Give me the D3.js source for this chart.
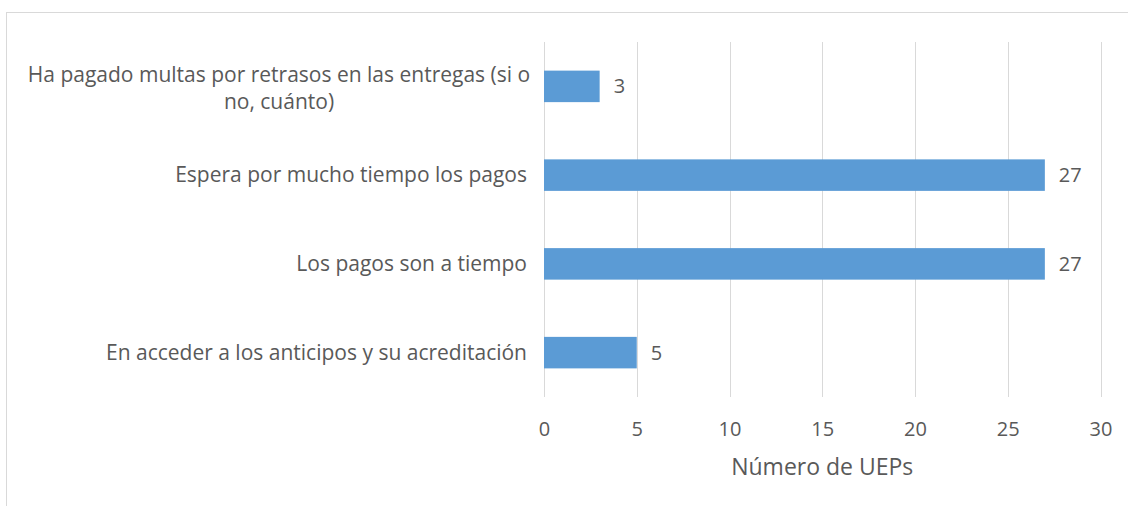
<!DOCTYPE html>
<html><head><meta charset="utf-8">
<script src="https://cdn.jsdelivr.net/npm/d3@7"></script>
<style>body{margin:0;background:#fff}svg{display:block}text{font-family:"Open Sans",sans-serif;fill:#595959}</style>
</head><body><svg id="c" width="1128" height="506"></svg>
<script>
const categories = [
  "Ha pagado multas por retrasos en las entregas (si o no, cuánto)",
  "Espera por mucho tiempo los pagos",
  "Los pagos son a tiempo",
  "En acceder a los anticipos y su acreditación"
];
const labelLines = [
  ["Ha pagado multas por retrasos en las entregas (si o", "no, cuánto)"],
  ["Espera por mucho tiempo los pagos"],
  ["Los pagos son a tiempo"],
  ["En acceder a los anticipos y su acreditación"]
];
const values = [3, 27, 27, 5];
const xTicks = [0, 5, 10, 15, 20, 25, 30];
const axisTitle = "Número de UEPs";

const svg = d3.select("#c");
svg.append("rect").attr("x", 6.5).attr("y", 12.5).attr("width", 1130).attr("height", 500)
  .attr("fill", "none").attr("stroke", "#D9D9D9").attr("stroke-width", 1);

const x = d3.scaleLinear().domain([0, 30]).range([544, 1100.5]);
const y = d3.scaleBand().domain(categories).range([42, 397]).paddingInner(0.645).paddingOuter(0.3225);

const g = svg.append("g");
g.selectAll("line.grid").data(xTicks).join("line").attr("class", "grid")
  .attr("x1", d => Math.round(x(d)) + 0.5).attr("x2", d => Math.round(x(d)) + 0.5)
  .attr("y1", 42).attr("y2", 397).attr("stroke", "#D9D9D9").attr("stroke-width", 1);

g.selectAll("rect.bar").data(values).join("rect").attr("class", "bar")
  .attr("x", x(0)).attr("y", (d, i) => y(categories[i]))
  .attr("width", d => x(d) - x(0)).attr("height", y.bandwidth())
  .attr("fill", "#5B9BD5");

g.selectAll("text.val").data(values).join("text").attr("class", "val")
  .attr("x", d => x(d) + 14).attr("y", (d, i) => y(categories[i]) + y.bandwidth() / 2)
  .attr("dy", "0.35em").attr("font-size", 20).text(d => d);

const xAxis = d3.axisBottom(x).tickValues(xTicks).tickSize(0).tickPadding(0);
const ax = svg.append("g").attr("transform", "translate(0,429)").call(xAxis);
ax.select(".domain").remove();
ax.selectAll("text").attr("font-size", 20).attr("dy", "0.35em").style("font-family", "'Open Sans',sans-serif").attr("fill", "#595959");

categories.forEach((c, i) => {
  const lines = labelLines[i];
  const cy = y(c) + y.bandwidth() / 2 + (lines.length > 1 ? 2 : 0);
  const lh = 27;
  const t = svg.append("text").attr("text-anchor", "middle").attr("font-size", 21);
  const cx = lines.length > 1 ? 279 : null;
  lines.forEach((ln, j) => {
    t.append("tspan").attr("x", cx === null ? 527 : cx)
      .attr("y", cy + (j - (lines.length - 1) / 2) * lh).attr("dy", "0.35em").text(ln);
  });
  if (lines.length === 1) t.attr("text-anchor", "end");
});

svg.append("text").attr("x", x(15)).attr("y", 467).attr("dy", "0.35em").attr("text-anchor", "middle")
  .attr("font-size", 23).text(axisTitle);
</script></body></html>
